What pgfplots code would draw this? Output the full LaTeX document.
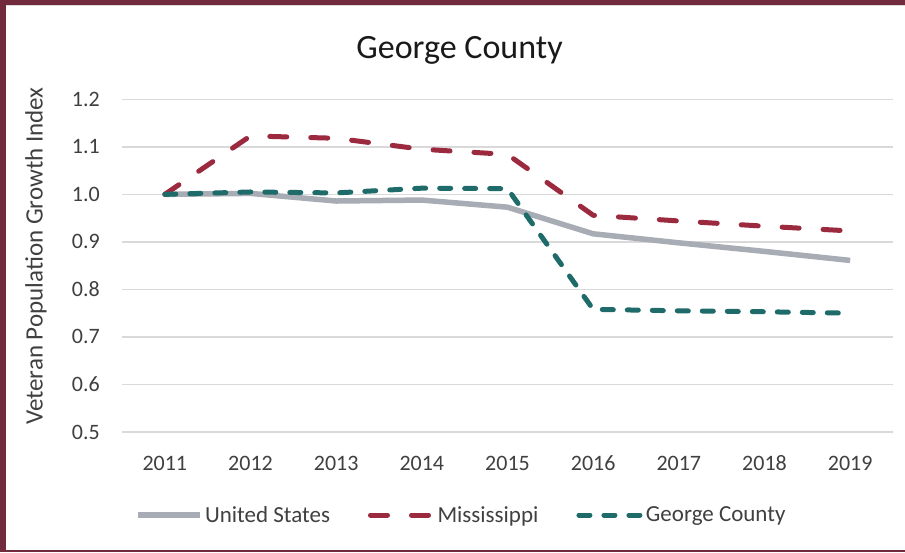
\documentclass[border=0pt]{standalone}
\usepackage{pgfplots}
\pgfplotsset{compat=1.18}
\usepackage{fontspec}
\setmainfont{Carlito}
\definecolor{bordercol}{HTML}{722B3D}
\definecolor{usgrey}{HTML}{A8ACB4}
\definecolor{msred}{HTML}{9C2A3F}
\definecolor{gcteal}{HTML}{1F6B6A}
\definecolor{gridgrey}{HTML}{D9D9D9}
\definecolor{txt}{HTML}{404040}
\begin{document}
\begin{tikzpicture}[x=1pt,y=1pt]
\useasboundingbox (0,0) rectangle (905,552);
\fill[white] (0,0) rectangle (905,552);
\fill[bordercol] (0,547) rectangle (905,552);
\draw[black!15, line width=1pt] (5,546) -- (905,546);
\fill[bordercol] (0,0) rectangle (5.5,552);
\fill[bordercol] (0,0) rectangle (905,2.5);
\node[anchor=base, font=\fontsize{34}{40}\selectfont, text=black!90] at (459.5,493) {George County};
\node[rotate=90, font=\fontsize{25}{29}\selectfont, text=txt] at (36,296) {Veteran Population Growth Index};
\begin{axis}[
  at={(122pt,120pt)}, anchor=south west, scale only axis,
  width=771pt, height=332.7pt,
  xmin=-0.5, xmax=8.5, ymin=0.5, ymax=1.2,
  xtick={0,1,2,3,4,5,6,7,8},
  xticklabels={2011,2012,2013,2014,2015,2016,2017,2018,2019},
  ytick={0.5,0.6,0.7,0.8,0.9,1.0,1.1,1.2},
  yticklabels={0.5,0.6,0.7,0.8,0.9,1.0,1.1,1.2},
  axis line style={draw=none}, tick style={draw=none},
  ymajorgrids, grid style={gridgrey, line width=1.6pt},
  ticklabel style={font=\fontsize{22}{26}\selectfont, text=txt},
  xticklabel style={anchor=center, yshift=-31pt},
  yticklabel style={anchor=east, inner sep=0pt, xshift=-22pt},
  legend columns=3,
  legend style={at={(0.44,-0.2495)}, anchor=center, draw=none, fill=none,
    font=\fontsize{23}{27}\selectfont, text=txt,
    /tikz/every even column/.append style={column sep=36pt}},
  legend cell align=left,
  legend image code/.code={\draw[#1] (2.5pt,0pt) -- (65pt,0pt);},
]
\addplot[usgrey, line width=5.5pt, line join=round] coordinates {
 (0,1.000) (1,1.002) (2,0.986) (3,0.988) (4,0.973) (5,0.917) (6,0.898) (7,0.880) (8,0.861)};
\addlegendentry{United States}
\addplot[msred, line width=5pt, line cap=round, line join=round, dash pattern=on 17pt off 24pt] coordinates {
 (0,1.000) (1,1.123) (2,1.118) (3,1.095) (4,1.084) (5,0.956) (6,0.944) (7,0.933) (8,0.923)};
\addlegendentry{Mississippi}
\addplot[gcteal, line width=5pt, line cap=round, line join=round, dash pattern=on 11pt off 14pt] coordinates {
 (0,1.000) (1,1.005) (2,1.003) (3,1.013) (4,1.012) (5,0.758) (6,0.755) (7,0.753) (8,0.750)};
\addlegendentry{George County}
\end{axis}
\end{tikzpicture}
\end{document}
